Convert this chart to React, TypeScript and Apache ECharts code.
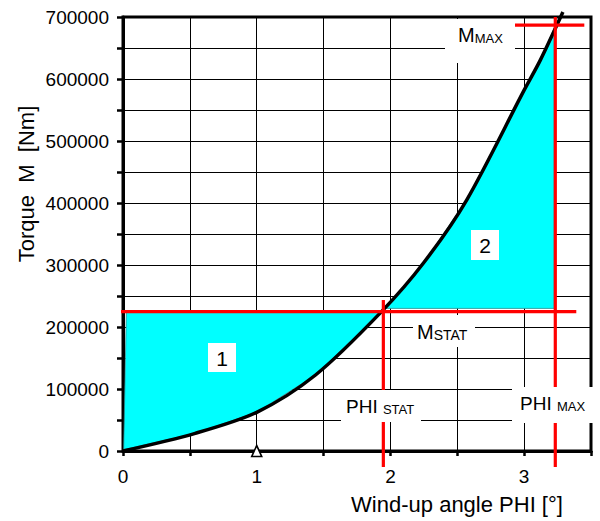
import React, { useEffect, useRef } from "react";
import * as echarts from "echarts";

// Torque curve (Wind-up angle PHI [°] vs Torque M [Nm])
const curvePhi = [0, 0.54, 1.0, 1.44, 1.93, 2.25, 2.57, 3.0, 3.12, 3.29];
const curveTorque = [0, 28500, 62400, 122600, 224000, 304000, 404800, 582000, 630000, 708000];

// Area 1 (below M_STAT, above curve)
const area1Phi = [0.025, 1.93, 1.44, 1.0, 0.54, 0.005];
const area1Torque = [224000, 224000, 122600, 62400, 28500, 2000];

// Area 2 (above M_STAT, right of curve, up to PHI_MAX)
const area2Phi = [1.96, 2.25, 2.57, 3.0, 3.12, 3.225, 3.225];
const area2Torque = [230000, 304000, 404800, 582000, 630000, 682000, 230000];

// Reference values
const mStat = 224700;
const mMax = 687000;
const phiStat = 1.947;
const phiMax = 3.233;

// Marker on the x axis
const markerPoint = [1, 0];

const xTicks = [0, 1, 2, 3];
const yTickStep = 100000;

const FONT = "'Liberation Sans', Arial, Helvetica, sans-serif";

export default function App() {
  const ref = useRef<HTMLDivElement>(null);
  useEffect(() => {
    if (!ref.current) return;
    const chart = echarts.init(ref.current, undefined, { renderer: "svg" });

    const curveData = curvePhi.map((p, i) => [p, curveTorque[i]]);
    const a1 = area1Phi.map((p, i) => [p, area1Torque[i]]);
    const a2 = area2Phi.map((p, i) => [p, area2Torque[i]]);

    const redSegments: number[][][] = [
      [[-0.084, mStat], [3.39, mStat]],
      [[phiStat, 243500], [phiStat, -25800]],
      [[phiMax, 700000], [phiMax, -25800]],
      [[2.88, mMax], [3.45, mMax]],
    ];

    const polySeries = (pts: number[][], name: string) => ({
      type: "custom",
      name,
      coordinateSystem: "cartesian2d",
      data: [[pts[0][0], pts[0][1]]],
      clip: false,
      z: 2,
      renderItem: (_params: any, api: any) => ({
        type: "polygon",
        shape: { points: pts.map((p) => api.coord(p)) },
        style: { fill: "#00ffff", stroke: "#2c8c8c", lineWidth: 0.8 },
      }),
    });

    const box = (x: number, y: number, w: number, h: number) => ({
      type: "rect",
      z: 100,
      shape: { x, y, width: w, height: h },
      style: { fill: "#ffffff" },
    });

    const richText = (x: number, y: number, main: string, sub: string, fsMain: number, fsSub: number) => ({
      type: "text",
      z: 101,
      x,
      y,
      style: {
        text: `{a|${main}}{b|${sub}}`,
        textAlign: "left",
        textVerticalAlign: "middle",
        rich: {
          a: { fontSize: fsMain, fontFamily: FONT, fill: "#000", verticalAlign: "bottom" },
          b: { fontSize: fsSub, fontFamily: FONT, fill: "#000", verticalAlign: "bottom" },
        },
      },
    });

    const plainText = (x: number, y: number, text: string, fs: number, rotation = 0) => ({
      type: "text",
      z: 101,
      x,
      y,
      rotation,
      style: {
        text,
        fontSize: fs,
        fontFamily: FONT,
        fill: "#000",
        textAlign: "center",
        textVerticalAlign: "middle",
      },
    });

    chart.setOption({
      animation: false,
      backgroundColor: "#ffffff",
      grid: {
        left: 123,
        right: 9,
        top: 17,
        bottom: 70,
        show: true,
        borderColor: "#000",
        borderWidth: 3,
        backgroundColor: "transparent",
      },
      xAxis: {
        type: "value",
        min: 0,
        max: 3.5,
        interval: 0.5,
        axisLine: { show: true, lineStyle: { color: "#000", width: 3 } },
        axisTick: { show: true, length: 5, lineStyle: { color: "#000", width: 2.5 } },
        splitLine: { show: true, lineStyle: { color: "#000", width: 1 } },
        axisLabel: {
          margin: 16,
          fontSize: 19,
          fontFamily: FONT,
          color: "#000",
          formatter: (v: number) => (xTicks.includes(v) ? String(v) : ""),
        },
      },
      yAxis: {
        type: "value",
        min: 0,
        max: 700000,
        interval: 50000,
        axisLine: { show: true, lineStyle: { color: "#000", width: 3 } },
        axisTick: { show: true, length: 6, lineStyle: { color: "#000", width: 2.5 } },
        splitLine: { show: true, lineStyle: { color: "#000", width: 1 } },
        axisLabel: {
          margin: 14,
          fontSize: 19,
          fontFamily: FONT,
          color: "#000",
          formatter: (v: number) => (v % yTickStep === 0 ? String(v) : ""),
        },
      },
      series: [
        polySeries(a1, "area1"),
        polySeries(a2, "area2"),
        {
          type: "line",
          name: "torque",
          data: curveData,
          smooth: 0.3,
          showSymbol: false,
          symbol: "none",
          clip: false,
          z: 5,
          lineStyle: { color: "#000", width: 3.5 },
        },
        ...redSegments.map((seg, i) => ({
          type: "line",
          name: "red" + i,
          data: seg,
          symbol: "none",
          clip: false,
          z: 8,
          lineStyle: { color: "#ff0000", width: 3.2 },
        })),
        {
          type: "scatter",
          name: "marker",
          data: [markerPoint],
          symbol: "triangle",
          symbolSize: [10, 11],
          z: 20,
          zlevel: 1,
          itemStyle: { color: "#ffffff", borderColor: "#000000", borderWidth: 1.6, opacity: 1 },
        },
      ],
      graphic: [
        box(445, 19, 70, 44),
        richText(458, 35, "M", "MAX", 20, 13),
        box(413, 315, 62, 32),
        richText(417, 332, "M", "STAT", 20, 14),
        box(341, 390, 80, 32),
        richText(346, 406, "PHI ", "STAT", 19, 13),
        box(512, 387, 82, 36),
        richText(520, 403, "PHI ", "MAX", 19, 13),
        box(208, 343, 28, 29),
        plainText(222, 358, "1", 21),
        box(471, 230, 28, 30),
        plainText(485, 245, "2", 21),
        plainText(457, 504, "Wind-up angle PHI [°]", 22),
        plainText(26, 184, "Torque  M  [Nm]", 22, Math.PI / 2),
      ],
    });
    return () => chart.dispose();
  }, []);
  return (
    <div
      ref={ref}
      style={{ position: "fixed", left: 0, top: 0, width: 600, height: 521 }}
    />
  );
}
